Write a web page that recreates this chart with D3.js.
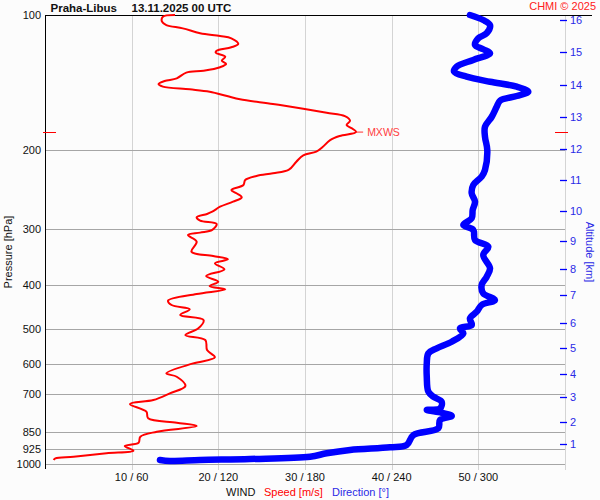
<!DOCTYPE html>
<html>
<head>
<meta charset="utf-8">
<script src="https://cdn.jsdelivr.net/npm/d3@7"></script>
<style>
html,body{margin:0;padding:0;background:#fcfcfc;}
svg{display:block;font-family:"Liberation Sans",Arial,sans-serif;}
</style>
</head>
<body>
<svg id="chart" width="600" height="500"></svg>
<script>
// ---- data ----
const pressureTicks = [100, 200, 300, 400, 500, 600, 700, 850, 925, 1000];
const speedTicks = [10, 20, 30, 40, 50];
const speedTickLabels = ["10 / 60", "20 / 120", "30 / 180", "40 / 240", "50 / 300"];
const altitudeKm = [1, 2, 3, 4, 5, 6, 7, 8, 9, 10, 11, 12, 13, 14, 15, 16];
const altitudePressure = [903, 806, 709, 630, 551, 485, 420, 368, 319, 273, 233, 199, 169, 143, 121, 102.6];

const speedPressure = [100, 100.9, 103.5, 105.3, 107.1, 109.8, 111.4, 112.7, 116.0, 118.0, 120.1, 121.3, 123.8, 126.4, 128.5, 130.7, 133.1, 134.4, 138.4, 140.3, 142.5, 144.4, 146.4, 148.2, 151.5, 154.1, 157.8, 161.7, 165.1, 167.9, 172.0, 175.8, 178.8, 182.3, 186.0, 189.9, 197.1, 201.6, 205.4, 212.2, 221.4, 225.2, 228.3, 233.1, 239.1, 245.4, 249.5, 254.7, 260.5, 267.3, 274.2, 277.4, 282.2, 287.1, 292.0, 301.1, 305.3, 309.0, 319.8, 336.7, 344.2, 350.0, 357.3, 368.5, 381.3, 392.7, 401.4, 408.2, 418.2, 432.8, 442.5, 452.3, 465.8, 477.9, 498.7, 516.2, 529.6, 557.4, 578.7, 597.0, 628.1, 639.2, 670.4, 696.0, 720.3, 735.2, 764.8, 791.1, 809.2, 823.0, 847.4, 869.4, 896.6, 911.9, 934.1, 946.6, 963.3, 971.2, 979.7];
const speedValues = [15.0, 13.6, 13.5, 14.0, 15.9, 17.9, 20.2, 21.5, 22.3, 21.5, 19.8, 19.7, 20.8, 20.4, 20.9, 20.2, 18.3, 16.3, 15.2, 13.8, 13.1, 13.6, 16.7, 19.0, 21.0, 22.5, 26.3, 29.8, 32.5, 34.6, 35.2, 34.8, 35.4, 35.9, 34.0, 32.9, 32.0, 31.3, 29.8, 29.0, 28.1, 26.3, 24.4, 23.1, 22.9, 21.5, 22.1, 22.7, 21.7, 20.2, 19.3, 18.7, 17.5, 17.9, 19.8, 19.3, 17.9, 16.5, 17.5, 16.9, 19.4, 21.1, 19.6, 20.7, 18.6, 20.0, 19.0, 20.8, 17.5, 14.2, 14.6, 16.7, 15.6, 18.3, 17.7, 16.2, 18.5, 18.7, 19.6, 17.1, 14.0, 15.2, 16.2, 14.4, 12.5, 9.8, 11.7, 11.9, 15.2, 17.5, 12.9, 11.0, 10.8, 9.2, 10.2, 7.1, 3.3, 1.2, 1.0];

const dirPressure = [100, 102.6, 105.3, 109.8, 112.7, 116.6, 119.2, 121.7, 125.9, 130.3, 133.7, 137.2, 140.8, 144.4, 148.2, 151.5, 155.2, 160.1, 168.5, 177.4, 186.7, 199.9, 221.4, 229.1, 239.1, 249.5, 260.5, 271.8, 283.6, 293.5, 301.1, 317.0, 328.1, 342.4, 366.6, 382.7, 399.4, 416.7, 431.3, 442.5, 458.0, 473.7, 490.3, 498.7, 511.7, 534.2, 552.6, 567.0, 597.0, 639.2, 690.3, 708.0, 726.6, 751.6, 758.2, 768.8, 781.8, 798.0, 832.7, 861.9, 907.2, 918.0, 930.8, 946.6, 963.3, 974.7, 979.7, 984.7, 979.7];
const dirValues = [294.2, 303.4, 308.1, 305.8, 300.0, 297.7, 303.4, 308.1, 296.5, 285.0, 283.2, 291.9, 308.1, 326.6, 334.6, 326.6, 315.0, 312.7, 309.3, 304.6, 304.6, 306.2, 304.6, 302.3, 296.5, 295.4, 297.7, 296.1, 295.4, 289.6, 296.5, 297.7, 306.9, 303.4, 308.1, 305.8, 302.3, 303.4, 311.5, 302.3, 298.9, 294.2, 295.4, 287.3, 289.6, 281.6, 271.2, 265.4, 264.3, 264.3, 265.4, 268.8, 274.6, 273.5, 264.3, 274.6, 281.6, 273.5, 272.3, 255.0, 250.4, 238.8, 211.2, 195.0, 183.5, 141.9, 107.3, 86.5, 79.6];

const mxwsPressure = 182.3;
const mxwsSpeed = 35.9;

// ---- layout ----
const svg = d3.select("#chart");
const mLeft = 45, mRight = 565, mTop = 15, mBottom = 464, axisEnd = 470;

const y = d3.scaleLog().domain([100, 1000]).range([mTop, mBottom]);
const xs = d3.scaleLinear().domain([0, 60]).range([mLeft, mRight]);
const xd = d3.scaleLinear().domain([0, 360]).range([mLeft, mRight]);

// vertical grid
svg.append("g").selectAll("line").data(speedTicks).join("line")
  .attr("x1", d => Math.round(xs(d)) + 0.5).attr("x2", d => Math.round(xs(d)) + 0.5)
  .attr("y1", mTop).attr("y2", axisEnd)
  .attr("stroke", "#d4d4d4").attr("stroke-width", 1);
svg.append("line").attr("x1", mRight + 0.5).attr("x2", mRight + 0.5).attr("y1", mTop).attr("y2", axisEnd)
  .attr("stroke", "#d4d4d4");

// horizontal grid
svg.append("g").selectAll("line").data(pressureTicks.filter(d => d > 100)).join("line")
  .attr("x1", mLeft).attr("x2", mRight)
  .attr("y1", d => Math.round(y(d)) + 0.5).attr("y2", d => Math.round(y(d)) + 0.5)
  .attr("stroke", "#a6a6a6").attr("stroke-width", 1);

// left axis (labels)
const gl = svg.append("g").attr("transform", `translate(${mLeft - 4},0)`)
  .call(d3.axisLeft(y).tickValues(pressureTicks).tickSize(0).tickPadding(0).tickFormat(d3.format("d")));
gl.select(".domain").remove();
gl.selectAll("text").attr("font-size", 11).attr("fill", "#111").attr("font-family", "Liberation Sans, Arial, sans-serif");

// frame lines
svg.append("line").attr("x1", mLeft + 0.5).attr("x2", mLeft + 0.5).attr("y1", mTop).attr("y2", axisEnd - 1)
  .attr("stroke", "#000").attr("stroke-width", 1);
svg.append("line").attr("x1", mLeft).attr("x2", 592).attr("y1", mTop + 0.5).attr("y2", mTop + 0.5)
  .attr("stroke", "#000").attr("stroke-width", 1);

// bottom tick labels
svg.append("g").selectAll("text").data(speedTicks).join("text")
  .attr("x", d => xs(d)).attr("y", 481).attr("text-anchor", "middle")
  .attr("font-size", 11).attr("fill", "#111")
  .text((d, i) => speedTickLabels[i]);

// right altitude axis
const gr = svg.append("g").attr("transform", `translate(${mRight - 5},0)`);
gr.selectAll("line").data(altitudePressure).join("line")
  .attr("x1", 0).attr("x2", 7)
  .attr("y1", d => Math.round(y(d)) + 0.5).attr("y2", d => Math.round(y(d)) + 0.5)
  .attr("stroke", "#0000ff").attr("stroke-width", 1.3);
gr.selectAll("text").data(altitudePressure).join("text")
  .attr("x", 10).attr("y", d => y(d)).attr("dy", "0.35em")
  .attr("font-size", 11).attr("fill", "#2a2ae6")
  .text((d, i) => altitudeKm[i]);

// MXWS ticks
const myr = Math.round(y(mxwsPressure)) + 0.5;
svg.append("line").attr("x1", 43).attr("x2", 56).attr("y1", myr).attr("y2", myr)
  .attr("stroke", "#ff0000").attr("stroke-width", 1);
svg.append("line").attr("x1", 555).attr("x2", 568).attr("y1", myr).attr("y2", myr)
  .attr("stroke", "#ff0000").attr("stroke-width", 1);

// direction curve
const dirData = dirPressure.map((p, i) => ({ p, v: dirValues[i] }));
svg.append("path").datum(dirData)
  .attr("d", d3.line().x(d => xd(d.v)).y(d => y(d.p)).curve(d3.curveCatmullRom.alpha(0.5)))
  .attr("fill", "none").attr("stroke", "#0000ff").attr("stroke-width", 6.5)
  .attr("stroke-linejoin", "round").attr("stroke-linecap", "round");

// speed curve
const spdData = speedPressure.map((p, i) => ({ p, v: speedValues[i] }));
svg.append("path").datum(spdData)
  .attr("d", d3.line().x(d => xs(d.v)).y(d => y(d.p)).curve(d3.curveCatmullRom.alpha(0.5)))
  .attr("fill", "none").attr("stroke", "#ff0000").attr("stroke-width", 2)
  .attr("stroke-linejoin", "round");

// MXWS label
const my = y(mxwsPressure);
svg.append("line").attr("x1", xs(mxwsSpeed)).attr("x2", xs(mxwsSpeed) + 7).attr("y1", my).attr("y2", my)
  .attr("stroke", "#ff3030").attr("stroke-width", 1);
svg.append("text").attr("x", xs(mxwsSpeed) + 11).attr("y", my).attr("dy", "0.35em")
  .attr("font-size", 10.5).attr("fill", "#ff4040").text("MXWS");

// titles
svg.append("text").attr("x", 50.5).attr("y", 12).attr("font-size", 11.5).attr("font-weight", "bold").attr("fill", "#111").text("Praha-Libus");
svg.append("text").attr("x", 131.5).attr("y", 12).attr("font-size", 11.5).attr("font-weight", "bold").attr("fill", "#111").text("13.11.2025 00 UTC");
svg.append("text").attr("x", 596).attr("y", 10).attr("text-anchor", "end").attr("font-size", 11).attr("fill", "#ff2020").text("CHMI © 2025");

// axis titles
svg.append("text").attr("transform", "translate(12,252) rotate(-90)").attr("text-anchor", "middle")
  .attr("font-size", 11).attr("fill", "#111").text("Pressure [hPa]");
svg.append("text").attr("transform", "translate(586,252) rotate(90)").attr("text-anchor", "middle")
  .attr("font-size", 11).attr("fill", "#2a2ae6").text("Altitude [km]");

const bt = svg.append("text").attr("x", 226).attr("y", 496).attr("font-size", 11);
bt.append("tspan").attr("fill", "#111").text("WIND");
bt.append("tspan").attr("x", 264).attr("fill", "#ff0000").text("Speed [m/s]");
bt.append("tspan").attr("x", 332).attr("fill", "#2a2ae6").text("Direction [°]");
</script>
</body>
</html>
